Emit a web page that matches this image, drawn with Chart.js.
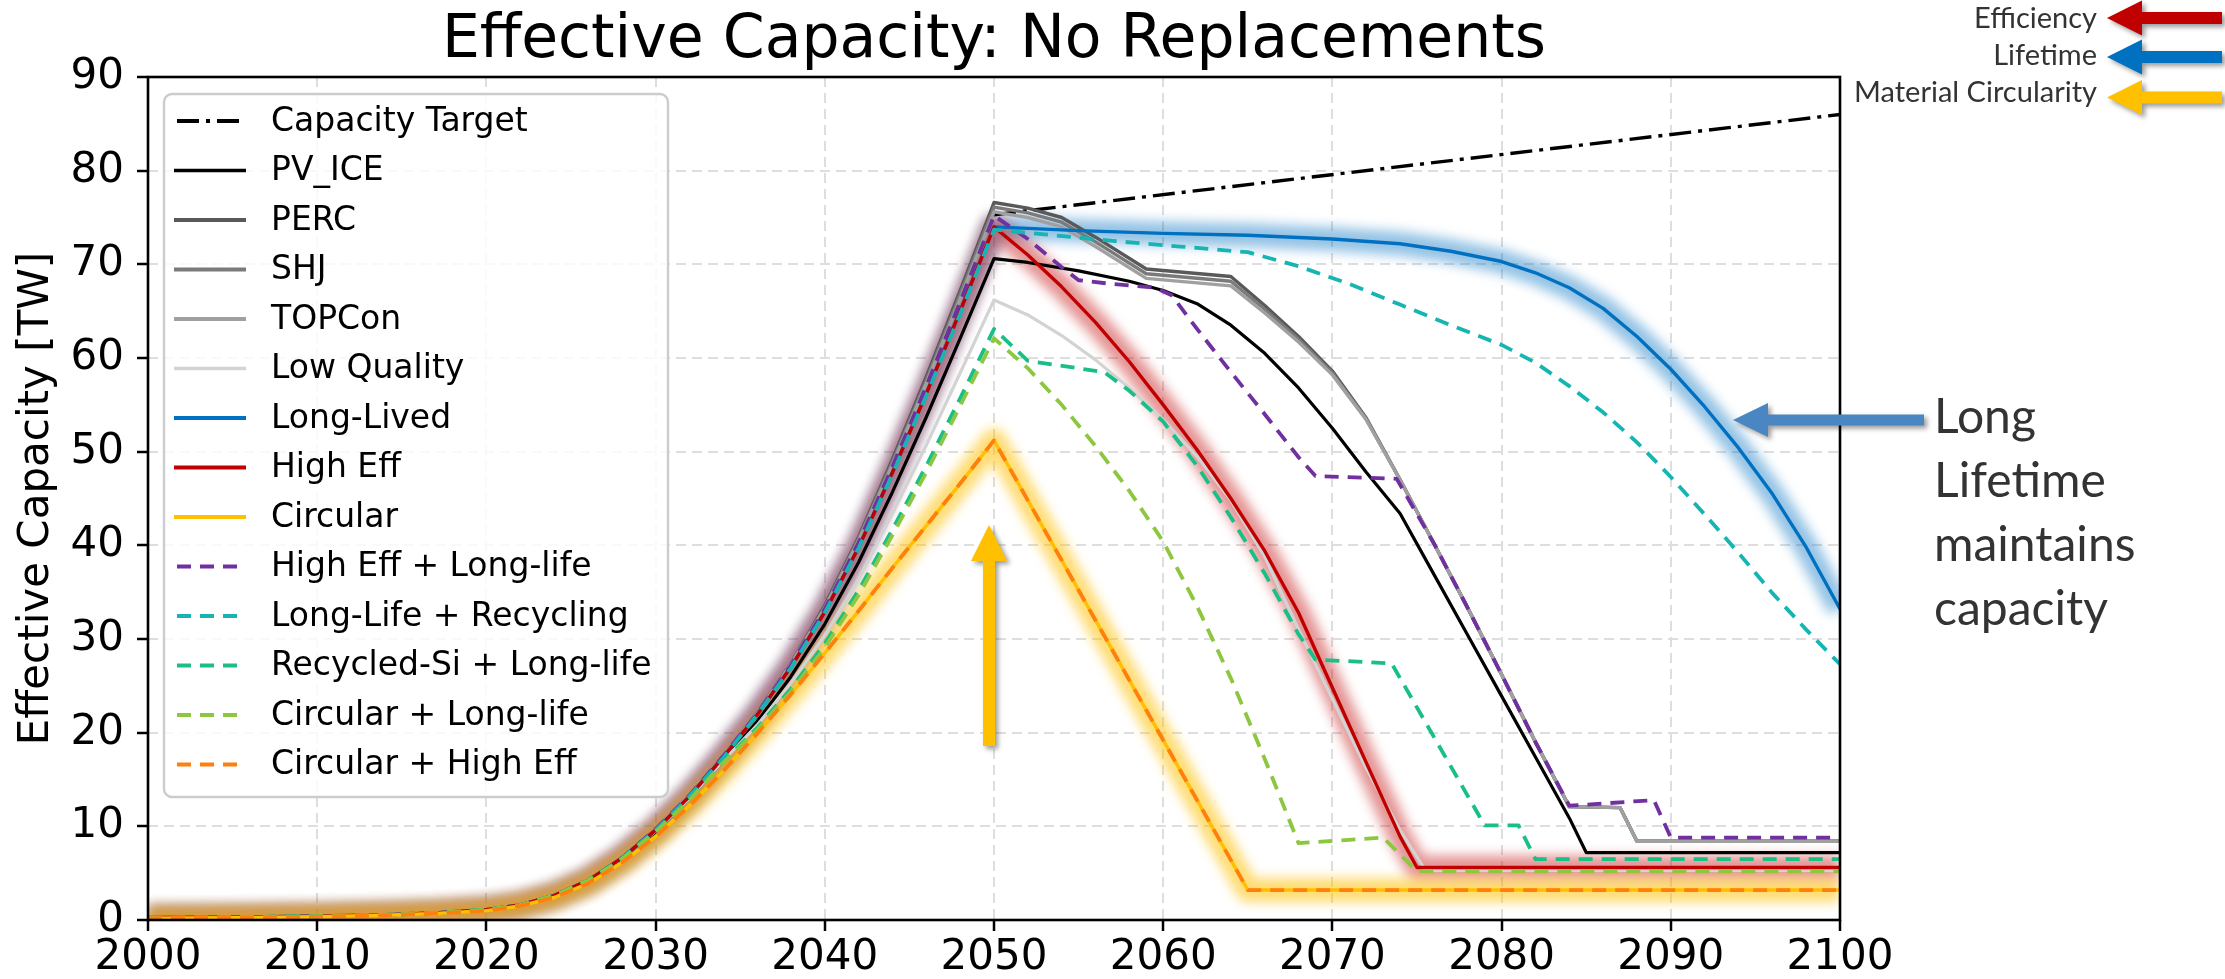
<!DOCTYPE html>
<html>
<head>
<meta charset="utf-8">
<script src="https://cdn.jsdelivr.net/npm/chart.js@4.4.1/dist/chart.umd.min.js"></script>
<style>
  html, body { margin: 0; padding: 0; background: #ffffff; }
  canvas { display: block; }
</style>
</head>
<body>
<canvas id="capacityChart" width="2225" height="979"></canvas>
<script>
// ---- Data: effective installed capacity [TW] by scenario, as [year, value] pairs ----
const seriesNames = [
  'Capacity Target', 'PV_ICE', 'PERC', 'SHJ', 'TOPCon', 'Low Quality', 'Long-Lived',
  'High Eff', 'Circular', 'High Eff + Long-life', 'Long-Life + Recycling',
  'Recycled-Si + Long-life', 'Circular + Long-life', 'Circular + High Eff'
];

const xTicks = [2000, 2010, 2020, 2030, 2040, 2050, 2060, 2070, 2080, 2090, 2100];
const yTicks = [0, 10, 20, 30, 40, 50, 60, 70, 80, 90];

const capacityTarget = [[2050, 75.3], [2100, 86.0]];

const pvIce = [
  [2000, 0.25], [2005, 0.3], [2010, 0.4], [2014, 0.55], [2017, 0.75], [2020, 1.1], [2022, 1.6],
  [2024, 2.6], [2026, 4.2], [2028, 6.5], [2030, 9.4], [2032, 13.0], [2034, 17.0], [2036, 21.2],
  [2038, 26.0], [2040, 31.6], [2042, 38.2], [2044, 45.7], [2046, 53.7], [2048, 62.1], [2050, 70.6],
  [2052, 70.2], [2055, 69.3], [2058, 68.2], [2060, 67.2], [2062, 65.8], [2064, 63.5], [2066, 60.5],
  [2068, 56.8], [2070, 52.5], [2072, 47.8], [2074, 43.4], [2076, 36.9], [2078, 30.4], [2080, 23.9],
  [2082, 17.4], [2084, 10.9], [2085, 7.2], [2100, 7.2]
];

const perc = [
  [2000, 0.25], [2005, 0.3], [2010, 0.4], [2014, 0.55], [2017, 0.75], [2020, 1.1], [2022, 1.6],
  [2024, 2.6], [2026, 4.2], [2028, 6.6], [2030, 9.7], [2032, 13.3], [2034, 17.5], [2036, 22.1],
  [2038, 27.4], [2040, 33.6], [2042, 40.9], [2044, 49.2], [2046, 58.0], [2048, 67.2], [2050, 76.6],
  [2052, 76.0], [2054, 75.0], [2056, 72.9], [2059, 69.5], [2064, 68.7], [2066, 65.6], [2068, 62.3],
  [2070, 58.6], [2072, 53.6], [2074, 47.0], [2076, 40.2], [2078, 33.3], [2080, 26.2], [2082, 19.0],
  [2084, 12.1], [2087, 12.0], [2088, 8.4], [2100, 8.4]
];

const shj = [
  [2000, 0.25], [2005, 0.3], [2010, 0.4], [2014, 0.55], [2017, 0.75], [2020, 1.1], [2022, 1.6],
  [2024, 2.6], [2026, 4.2], [2028, 6.6], [2030, 9.7], [2032, 13.3], [2034, 17.5], [2036, 22.1],
  [2038, 27.4], [2040, 33.4], [2042, 40.7], [2044, 48.9], [2046, 57.6], [2048, 66.8], [2050, 76.1],
  [2052, 75.5], [2054, 74.5], [2056, 72.4], [2059, 69.0], [2064, 68.2], [2066, 65.2], [2068, 62.0],
  [2070, 58.4], [2072, 53.5], [2074, 47.0], [2076, 40.2], [2078, 33.3], [2080, 26.2], [2082, 19.0],
  [2084, 12.1], [2087, 12.0], [2088, 8.4], [2100, 8.4]
];

const topcon = [
  [2000, 0.25], [2005, 0.3], [2010, 0.4], [2014, 0.55], [2017, 0.75], [2020, 1.1], [2022, 1.6],
  [2024, 2.6], [2026, 4.2], [2028, 6.6], [2030, 9.7], [2032, 13.3], [2034, 17.5], [2036, 22.0],
  [2038, 27.3], [2040, 33.3], [2042, 40.5], [2044, 48.6], [2046, 57.3], [2048, 66.3], [2050, 75.6],
  [2052, 75.0], [2054, 74.0], [2056, 71.9], [2059, 68.5], [2064, 67.7], [2066, 64.8], [2068, 61.7],
  [2070, 58.2], [2072, 53.4], [2074, 47.0], [2076, 40.2], [2078, 33.3], [2080, 26.2], [2082, 19.0],
  [2084, 12.1], [2087, 12.0], [2088, 8.4], [2100, 8.4]
];

const lowQuality = [
  [2000, 0.25], [2005, 0.3], [2010, 0.4], [2014, 0.55], [2017, 0.75], [2020, 1.1], [2022, 1.6],
  [2024, 2.6], [2026, 4.2], [2028, 6.5], [2030, 9.5], [2032, 13.0], [2034, 17.0], [2036, 20.8],
  [2038, 25.3], [2040, 30.4], [2042, 36.4], [2044, 43.4], [2046, 50.7], [2048, 58.4], [2050, 66.2],
  [2052, 64.6], [2054, 62.4], [2056, 59.8], [2058, 56.8], [2060, 53.4], [2062, 49.5], [2064, 44.8],
  [2066, 38.8], [2068, 31.0], [2070, 23.6], [2072, 16.2], [2074, 9.6], [2075.5, 5.3], [2100, 5.3]
];

const longLived = [
  [2000, 0.25], [2005, 0.3], [2010, 0.4], [2014, 0.55], [2017, 0.75], [2020, 1.1], [2022, 1.6],
  [2024, 2.6], [2026, 4.2], [2028, 6.6], [2030, 9.6], [2032, 13.2], [2034, 17.4], [2036, 21.9],
  [2038, 27.0], [2040, 32.9], [2042, 39.8], [2044, 47.8], [2046, 56.2], [2048, 65.0], [2050, 74.0],
  [2055, 73.6], [2060, 73.3], [2065, 73.1], [2070, 72.7], [2074, 72.2], [2077, 71.4], [2080, 70.3],
  [2082, 69.1], [2084, 67.5], [2086, 65.3], [2088, 62.3], [2090, 58.8], [2092, 54.8], [2094, 50.4],
  [2096, 45.5], [2098, 39.8], [2100, 33.2]
];

const highEff = [
  [2000, 0.25], [2005, 0.3], [2010, 0.4], [2014, 0.55], [2017, 0.75], [2020, 1.1], [2022, 1.6],
  [2024, 2.6], [2026, 4.2], [2028, 6.6], [2030, 9.6], [2032, 13.2], [2034, 17.4], [2036, 21.9],
  [2038, 27.0], [2040, 32.9], [2042, 39.8], [2044, 47.8], [2046, 56.2], [2048, 65.0], [2050, 74.0],
  [2052, 71.0], [2054, 67.6], [2056, 63.8], [2058, 59.6], [2060, 55.0], [2062, 50.2], [2064, 45.0],
  [2066, 39.4], [2068, 32.8], [2069, 28.8], [2070, 24.8], [2072, 16.8], [2074, 8.9], [2075, 5.6],
  [2100, 5.6]
];

const circular = [
  [2000, 0.2], [2005, 0.25], [2010, 0.35], [2014, 0.5], [2017, 0.7], [2020, 1.0], [2022, 1.5],
  [2024, 2.4], [2026, 3.9], [2028, 6.1], [2030, 8.9], [2032, 12.2], [2034, 15.9], [2036, 19.9],
  [2038, 24.1], [2040, 28.5], [2042, 33.0], [2044, 37.6], [2046, 42.1], [2048, 46.6], [2050, 51.2],
  [2065, 3.2], [2100, 3.2]
];

const highEffLongLife = [
  [2000, 0.25], [2005, 0.3], [2010, 0.4], [2014, 0.55], [2017, 0.75], [2020, 1.1], [2022, 1.6],
  [2024, 2.6], [2026, 4.2], [2028, 6.6], [2030, 9.7], [2032, 13.3], [2034, 17.5], [2036, 22.0],
  [2038, 27.2], [2040, 33.2], [2042, 40.3], [2044, 48.4], [2046, 57.0], [2048, 66.0], [2050, 75.2],
  [2052, 72.7], [2054, 69.7], [2055, 68.3], [2057, 67.9], [2059.5, 67.5], [2060.5, 66.7], [2062, 63.1],
  [2064, 58.5], [2066, 54.0], [2068, 49.4], [2069, 47.4], [2073.8, 47.1], [2076, 40.2], [2078, 33.3],
  [2080, 26.2], [2082, 19.0], [2084, 12.2], [2089, 12.8], [2090, 8.8], [2100, 8.8]
];

const longLifeRecycling = [
  [2000, 0.25], [2005, 0.3], [2010, 0.4], [2014, 0.55], [2017, 0.75], [2020, 1.1], [2022, 1.6],
  [2024, 2.6], [2026, 4.2], [2028, 6.6], [2030, 9.6], [2032, 13.2], [2034, 17.3], [2036, 21.9],
  [2038, 26.9], [2040, 32.8], [2042, 39.7], [2044, 47.6], [2046, 56.0], [2048, 64.7], [2050, 73.7],
  [2053, 73.2], [2057, 72.5], [2061, 71.9], [2065, 71.3], [2068, 69.8], [2071, 67.9], [2074, 65.7],
  [2077, 63.5], [2080, 61.4], [2082, 59.5], [2084, 57.0], [2086, 54.2], [2088, 51.0], [2090, 47.3],
  [2092, 43.3], [2094, 39.2], [2096, 34.9], [2098, 31.0], [2100, 27.3]
];

const recycledSiLongLife = [
  [2000, 0.25], [2005, 0.3], [2010, 0.4], [2014, 0.55], [2017, 0.75], [2020, 1.1], [2022, 1.6],
  [2024, 2.6], [2026, 4.2], [2028, 6.5], [2030, 9.5], [2032, 12.9], [2034, 16.9], [2036, 20.5],
  [2038, 24.7], [2040, 29.5], [2042, 35.2], [2044, 41.7], [2046, 48.5], [2048, 55.7], [2050, 63.1],
  [2052, 59.7], [2056.5, 58.5], [2058, 56.5], [2060, 53.2], [2062, 48.5], [2064, 43.0], [2066, 37.0],
  [2068, 30.5], [2069, 27.8], [2073.5, 27.4], [2079, 10.1], [2081, 10.1], [2082, 6.5], [2100, 6.5]
];

const circularLongLife = [
  [2000, 0.25], [2005, 0.3], [2010, 0.4], [2014, 0.55], [2017, 0.75], [2020, 1.1], [2022, 1.6],
  [2024, 2.6], [2026, 4.2], [2028, 6.5], [2030, 9.4], [2032, 12.8], [2034, 16.8], [2036, 20.3],
  [2038, 24.4], [2040, 29.1], [2042, 34.7], [2044, 41.1], [2046, 47.8], [2048, 54.9], [2050, 62.1],
  [2052, 58.9], [2054, 55.0], [2056, 50.6], [2058, 45.8], [2060, 40.4], [2062, 33.5], [2064, 25.8],
  [2066, 17.2], [2068, 8.2], [2073, 8.8], [2075, 5.2], [2100, 5.2]
];

const circularHighEff = [
  [2000, 0.2], [2005, 0.25], [2010, 0.35], [2014, 0.5], [2017, 0.7], [2020, 1.0], [2022, 1.5],
  [2024, 2.4], [2026, 3.9], [2028, 6.1], [2030, 8.9], [2032, 12.2], [2034, 15.9], [2036, 19.9],
  [2038, 24.1], [2040, 28.5], [2042, 33.0], [2044, 37.6], [2046, 42.1], [2048, 46.6], [2050, 51.2],
  [2065, 3.2], [2100, 3.2]
];

const seriesValues = [
  capacityTarget, pvIce, perc, shj, topcon, lowQuality, longLived, highEff, circular,
  highEffLongLife, longLifeRecycling, recycledSiLongLife, circularLongLife, circularHighEff
];

// ---- Styling ----
const DASH = [14, 9];
const DASH_DOT = [22, 7, 4, 7];
const seriesStyles = [
  { color: '#000000', width: 3.4, dash: DASH_DOT },
  { color: '#000000', width: 3.2, dash: [] },
  { color: '#595959', width: 3.4, dash: [] },
  { color: '#7a7a7a', width: 3.4, dash: [] },
  { color: '#a0a0a0', width: 3.4, dash: [] },
  { color: '#d3d3d3', width: 3.2, dash: [] },
  { color: '#0070C0', width: 3.4, dash: [], glow: 'rgba(0,112,192,0.42)' },
  { color: '#C00000', width: 3.4, dash: [], glow: 'rgba(192,0,0,0.42)' },
  { color: '#FFC000', width: 3.4, dash: [], glow: 'rgba(255,192,0,0.55)' },
  { color: '#7030A0', width: 3.8, dash: DASH },
  { color: '#17B4B4', width: 3.8, dash: DASH },
  { color: '#19BF86', width: 3.8, dash: DASH },
  { color: '#8DC63F', width: 3.8, dash: DASH },
  { color: '#FF7F0E', width: 3.8, dash: DASH }
];

const AREA = { left: 148, top: 77, right: 1840, bottom: 920 };
const W = 2225, H = 979;
const TICK_FONT = { family: 'DejaVu Sans', size: 42 };

const datasets = seriesNames.map((name, i) => ({
  label: name,
  data: seriesValues[i].map(([x, y]) => ({ x, y })),
  borderColor: seriesStyles[i].color,
  backgroundColor: seriesStyles[i].color,
  borderWidth: seriesStyles[i].width,
  borderDash: seriesStyles[i].dash,
  borderJoinStyle: 'round',
  glow: seriesStyles[i].glow,
  fill: false,
  pointRadius: 0,
  tension: 0,
  order: seriesNames.length - i
}));

// Soft halo behind the highlighted scenarios
const glowPlugin = {
  id: 'glow',
  beforeDatasetsDraw(chart) {
    const { ctx, chartArea: a } = chart;
    chart.data.datasets.forEach((ds, i) => {
      if (!ds.glow) return;
      const pts = chart.getDatasetMeta(i).data;
      ctx.save();
      ctx.beginPath();
      ctx.rect(a.left, a.top, a.right - a.left, a.bottom - a.top);
      ctx.clip();
      ctx.filter = 'blur(6px)';
      ctx.strokeStyle = ds.glow;
      ctx.lineWidth = 24;
      ctx.lineJoin = 'round';
      ctx.beginPath();
      pts.forEach((p, j) => (j ? ctx.lineTo(p.x, p.y) : ctx.moveTo(p.x, p.y)));
      ctx.stroke();
      ctx.restore();
    });
  }
};

// Axes frame and in-plot legend
const frameLegendPlugin = {
  id: 'frameLegend',
  afterDatasetsDraw(chart) {
    const { ctx, chartArea: a } = chart;
    ctx.save();
    ctx.strokeStyle = '#000';
    ctx.lineWidth = 2.6;
    ctx.strokeRect(a.left, a.top, a.right - a.left, a.bottom - a.top);

    const box = { x: 164, y: 94, w: 504, h: 703, r: 8 };
    ctx.beginPath();
    ctx.roundRect(box.x, box.y, box.w, box.h, box.r);
    ctx.fillStyle = 'rgba(255,255,255,0.8)';
    ctx.fill();
    ctx.strokeStyle = '#cccccc';
    ctx.lineWidth = 2.4;
    ctx.stroke();

    const row0 = 121, rowGap = 49.5, hx0 = 174, hx1 = 246, tx = 271;
    ctx.font = '33px "DejaVu Sans"';
    ctx.textBaseline = 'middle';
    ctx.textAlign = 'left';
    chart.data.datasets.forEach((ds, i) => {
      const y = row0 + i * rowGap;
      ctx.beginPath();
      ctx.setLineDash(ds.borderDash || []);
      ctx.lineDashOffset = ds.borderDash && ds.borderDash.length ? -3 : 0;
      ctx.strokeStyle = ds.borderColor;
      ctx.lineWidth = ds.borderWidth + 0.4;
      ctx.moveTo(hx0, y);
      ctx.lineTo(hx1, y);
      ctx.stroke();
      ctx.setLineDash([]);
      ctx.fillStyle = '#000';
      ctx.fillText(ds.label, tx, y + 1);
    });
    ctx.restore();
  }
};

function leftArrow(ctx, tipX, y, headX, tailX, headHalf, shaftHalf, color) {
  ctx.beginPath();
  ctx.moveTo(tipX, y);
  ctx.lineTo(headX, y - headHalf);
  ctx.lineTo(headX, y - shaftHalf);
  ctx.lineTo(tailX, y - shaftHalf);
  ctx.lineTo(tailX, y + shaftHalf);
  ctx.lineTo(headX, y + shaftHalf);
  ctx.lineTo(headX, y + headHalf);
  ctx.closePath();
  ctx.fillStyle = color;
  ctx.fill();
}

function upArrow(ctx, x, tipY, headY, tailY, headHalf, shaftHalf, color) {
  ctx.beginPath();
  ctx.moveTo(x, tipY);
  ctx.lineTo(x + headHalf, headY);
  ctx.lineTo(x + shaftHalf, headY);
  ctx.lineTo(x + shaftHalf, tailY);
  ctx.lineTo(x - shaftHalf, tailY);
  ctx.lineTo(x - shaftHalf, headY);
  ctx.lineTo(x - headHalf, headY);
  ctx.closePath();
  ctx.fillStyle = color;
  ctx.fill();
}

// Title, axis title and call-outs
const textPlugin = {
  id: 'texts',
  afterDraw(chart) {
    const { ctx, chartArea: a } = chart;
    ctx.save();
    ctx.fillStyle = '#000';
    ctx.font = '60px "DejaVu Sans"';
    ctx.textAlign = 'center';
    ctx.textBaseline = 'alphabetic';
    ctx.fillText('Effective Capacity: No Replacements', (a.left + a.right) / 2, 57);

    ctx.save();
    ctx.translate(48, (a.top + a.bottom) / 2);
    ctx.rotate(-Math.PI / 2);
    ctx.font = '42px "DejaVu Sans"';
    ctx.fillText('Effective Capacity [TW]', 0, 0);
    ctx.restore();

    // arrows with a soft drop shadow
    ctx.save();
    ctx.shadowColor = 'rgba(0,0,0,0.4)';
    ctx.shadowBlur = 5;
    ctx.shadowOffsetX = 3;
    ctx.shadowOffsetY = 3;
    leftArrow(ctx, 2107, 18, 2142, 2222, 17.5, 6, '#C00000');
    leftArrow(ctx, 2107, 57, 2142, 2222, 17.5, 6, '#0070C0');
    leftArrow(ctx, 2107, 97.5, 2142, 2222, 17.5, 6, '#FFC000');
    leftArrow(ctx, 1733, 420, 1768, 1924, 17, 5.5, '#4A86C2');
    upArrow(ctx, 989, 525, 561, 746, 18, 6, '#FFC000');
    ctx.restore();

    ctx.fillStyle = '#333333';
    ctx.textAlign = 'right';
    ctx.font = '29px Lato';
    ctx.fillText('Efficiency', 2097, 27.7);
    ctx.fillText('Lifetime', 2097, 65);
    ctx.fillText('Material Circularity', 2097, 101.7);

    ctx.textAlign = 'left';
    ctx.font = '48px Lato';
    ['Long', 'Lifetime', 'maintains', 'capacity'].forEach((t, i) => {
      ctx.fillText(t, 1934, 433 + i * 64);
    });
    ctx.restore();
  }
};

new Chart(document.getElementById('capacityChart').getContext('2d'), {
  type: 'line',
  data: { datasets },
  options: {
    responsive: false,
    animation: false,
    devicePixelRatio: 1,
    layout: { padding: { left: 0, top: AREA.top, right: W - AREA.right, bottom: 0 } },
    plugins: {
      legend: { display: false },
      title: { display: false },
      tooltip: { enabled: false }
    },
    elements: { point: { radius: 0 }, line: { tension: 0 } },
    scales: {
      x: {
        type: 'linear',
        min: 2000,
        max: 2100,
        afterBuildTicks: s => { s.ticks = xTicks.map(v => ({ value: v })); },
        afterFit: s => { s.height = H - AREA.bottom; },
        ticks: {
          autoSkip: false, maxRotation: 0, padding: 2, color: '#000', font: TICK_FONT,
          callback: v => String(v)
        },
        grid: { color: '#dedede', lineWidth: 2, tickLength: 11, tickColor: '#000', tickWidth: 2.5 },
        border: { display: false, dash: [10, 6] }
      },
      y: {
        type: 'linear',
        min: 0,
        max: 90,
        afterBuildTicks: s => { s.ticks = yTicks.map(v => ({ value: v })); },
        afterFit: s => { s.width = AREA.left; },
        ticks: { padding: 13, color: '#000', font: TICK_FONT, callback: v => String(v) },
        grid: { color: '#dedede', lineWidth: 2, tickLength: 11, tickColor: '#000', tickWidth: 2.5 },
        border: { display: false, dash: [10, 6] }
      }
    }
  },
  plugins: [glowPlugin, frameLegendPlugin, textPlugin]
});
</script>
</body>
</html>
